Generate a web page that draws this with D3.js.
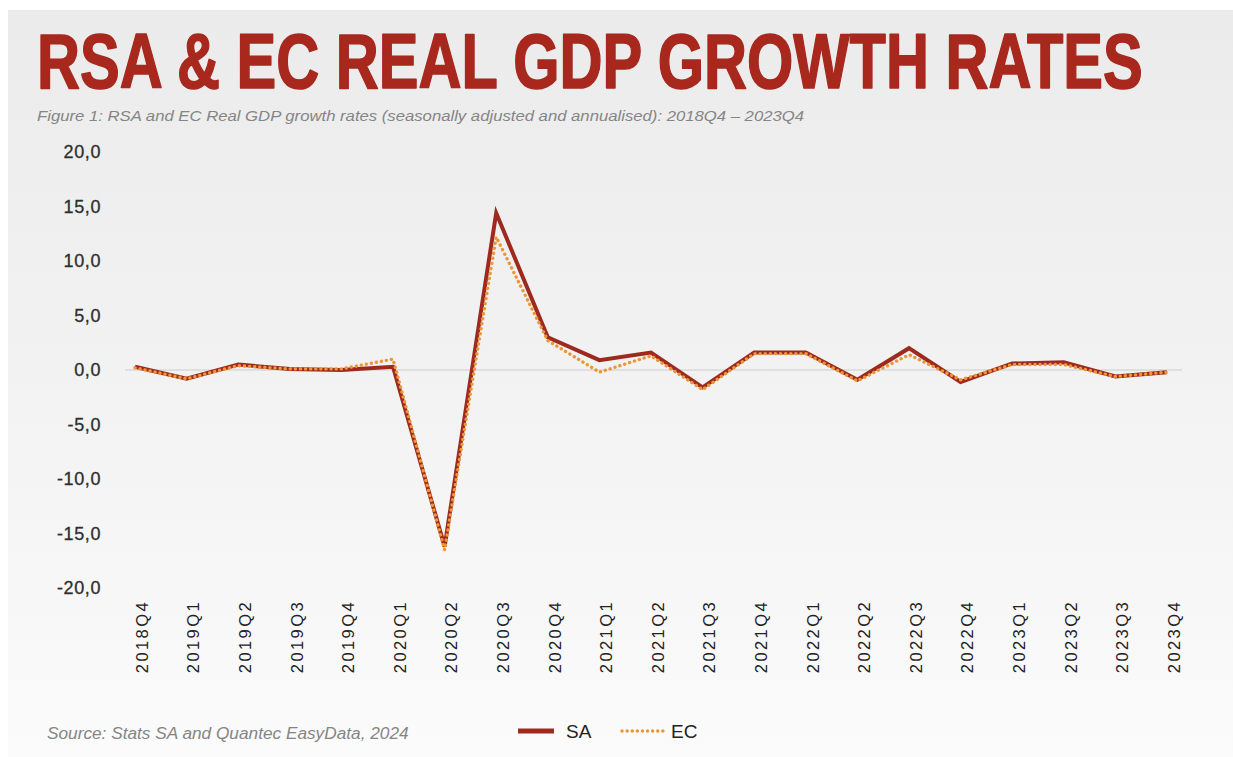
<!DOCTYPE html>
<html>
<head>
<meta charset="utf-8">
<script src="https://cdn.jsdelivr.net/npm/d3@7"></script>
<style>
  html, body { margin: 0; padding: 0; background: #ffffff; }
  svg { display: block; }
</style>
</head>
<body>
<svg id="chart" width="1233" height="757"></svg>
<script>
// Quarterly real GDP growth, seasonally adjusted and annualised (%)
const quarters = ["2018Q4","2019Q1","2019Q2","2019Q3","2019Q4","2020Q1","2020Q2","2020Q3","2020Q4",
  "2021Q1","2021Q2","2021Q3","2021Q4","2022Q1","2022Q2","2022Q3","2022Q4","2023Q1","2023Q2","2023Q3","2023Q4"];
const saGrowth = [0.3, -0.8, 0.5, 0.1, 0.0, 0.3, -16.2, 14.4, 3.0,
  0.9, 1.6, -1.6, 1.6, 1.6, -0.9, 2.0, -1.1, 0.6, 0.7, -0.6, -0.2];
const ecGrowth = [0.2, -0.8, 0.4, 0.1, 0.1, 1.0, -16.5, 12.2, 2.7,
  -0.2, 1.3, -1.8, 1.5, 1.5, -1.0, 1.4, -0.9, 0.5, 0.5, -0.6, -0.2];
const yTicks = [20, 15, 10, 5, 0, -5, -10, -15, -20];

const svg = d3.select("#chart");
const sans = "'Liberation Sans', Arial, Helvetica, sans-serif";

// soft grey panel, lighter towards the bottom
const defs = svg.append("defs");
const grad = defs.append("linearGradient").attr("id", "panelBg")
  .attr("x1", 0).attr("y1", 0).attr("x2", 0).attr("y2", 1);
grad.append("stop").attr("offset", "0%").attr("stop-color", "#ebebeb");
grad.append("stop").attr("offset", "55%").attr("stop-color", "#f3f3f3");
grad.append("stop").attr("offset", "100%").attr("stop-color", "#fbfbfb");
svg.append("rect").attr("x", 8).attr("y", 10).attr("width", 1225).attr("height", 747)
  .attr("fill", "url(#panelBg)");

// condensed text: draw at natural width, then squeeze horizontally to the wanted width
function condensed(xPos, yPos, width, txt, styles) {
  const g = svg.append("g");
  const t = g.append("text").attr("x", 0).attr("y", 0).text(txt);
  Object.entries(styles).forEach(([k, v]) => t.style(k, v));
  const natural = t.node().getComputedTextLength();
  g.attr("transform", `translate(${xPos},${yPos}) scale(${width / natural},1)`);
  return t;
}

// heading
condensed(37, 88, 1106, "RSA & EC REAL GDP GROWTH RATES", {
  "font-family": sans, "font-weight": "bold", "font-size": "77px",
  "fill": "#a8281e", "stroke": "#a8281e", "stroke-width": "1.6px", "stroke-linejoin": "round"
});

condensed(37, 121, 768,
  "Figure 1: RSA and EC Real GDP growth rates (seasonally adjusted and annualised): 2018Q4 \u2013 2023Q4", {
  "font-family": sans, "font-style": "italic", "font-size": "15px", "fill": "#858585"
});

// scales
const x = d3.scalePoint().domain(quarters).range([135, 1167]);
const y = d3.scaleLinear().domain([-20, 20]).range([588, 152]);

// y axis labels
const yAxis = d3.axisLeft(y).tickValues(yTicks).tickSize(0).tickPadding(0)
  .tickFormat(d => d3.format(".1f")(d).replace(".", ",").replace("\u2212", "-"));
const yg = svg.append("g").attr("transform", "translate(101,0)").call(yAxis);
yg.select(".domain").remove();
yg.selectAll("text")
  .style("font-family", sans)
  .style("font-size", "18px").style("letter-spacing", "0.6px")
  .style("stroke", "#2e2e2e").style("stroke-width", "0.3px")
  .attr("fill", "#2e2e2e");

// zero reference line
svg.append("line")
  .attr("x1", 125).attr("x2", 1182)
  .attr("y1", y(0)).attr("y2", y(0))
  .attr("stroke", "#d8d8d8").attr("stroke-width", 1.5);

// x axis labels, rotated
const xAxis = d3.axisBottom(x).tickSize(0).tickPadding(0);
const xg = svg.append("g").attr("transform", "translate(0,600)").call(xAxis);
xg.select(".domain").remove();
xg.selectAll("text")
  .attr("transform", "rotate(-90)")
  .attr("x", 0).attr("y", 0).attr("dx", 0).attr("dy", "0.35em")
  .style("text-anchor", "end")
  .style("font-family", sans)
  .style("font-size", "16.5px").style("letter-spacing", "2.4px")
  .attr("fill", "#222222");
xg.selectAll(".tick").attr("transform", d => `translate(${x(d) + 7},0)`);

// series lines
const line = d3.line().x((d, i) => x(quarters[i])).y(d => y(d));

svg.append("path").datum(saGrowth)
  .attr("d", line)
  .attr("fill", "none")
  .attr("stroke", "#9e2a1f")
  .attr("stroke-width", 4)
  .attr("stroke-linejoin", "miter");

svg.append("path").datum(ecGrowth)
  .attr("d", line)
  .attr("fill", "none")
  .attr("stroke", "#ec9638")
  .attr("stroke-width", 3.4)
  .attr("stroke-dasharray", "0.1,5")
  .attr("stroke-linecap", "round")
  .attr("stroke-linejoin", "round");

// source note
condensed(47, 739, 362, "Source: Stats SA and Quantec EasyData, 2024", {
  "font-family": sans, "font-style": "italic", "font-size": "17px", "fill": "#858585"
});

// legend
const legend = svg.append("g");
legend.append("line").attr("x1", 518).attr("x2", 554).attr("y1", 731).attr("y2", 731)
  .attr("stroke", "#9e2a1f").attr("stroke-width", 5);
legend.append("text").attr("x", 566).attr("y", 738)
  .style("font-family", sans).style("font-size", "19px")
  .attr("fill", "#222222").text("SA");
legend.append("line").attr("x1", 622).attr("x2", 664).attr("y1", 731).attr("y2", 731)
  .attr("stroke", "#ec9638").attr("stroke-width", 3.4)
  .attr("stroke-dasharray", "0.1,5").attr("stroke-linecap", "round");
legend.append("text").attr("x", 671).attr("y", 738)
  .style("font-family", sans).style("font-size", "19px")
  .attr("fill", "#222222").text("EC");
</script>
</body>
</html>
